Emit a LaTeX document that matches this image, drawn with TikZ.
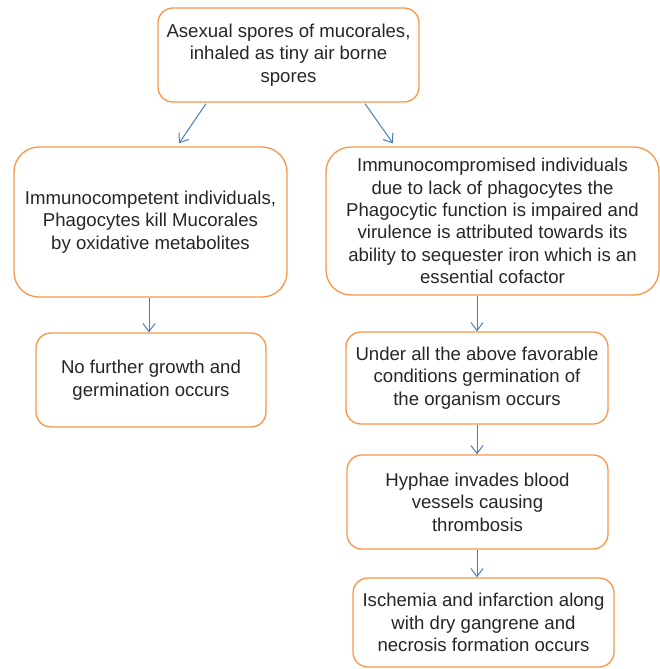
\documentclass[tikz,border=0pt]{standalone}
\usepackage{fontspec}
\setmainfont{Liberation Sans}
\usetikzlibrary{arrows.meta,calc}
\definecolor{boxorange}{RGB}{247,150,70}
\definecolor{arrowblue}{RGB}{74,126,187}
\definecolor{txt}{RGB}{38,38,38}
\begin{document}
\begin{tikzpicture}[x=1pt,y=-1pt,
  box/.style={draw=boxorange, line width=1.3pt, align=center, inner sep=0pt,
    text=txt, font=\fontsize{18.6}{22.4}\selectfont},
  smallbox/.style={box, rounded corners=15pt},
  bigbox/.style={box, rounded corners=25pt},
  arr/.style={draw=arrowblue, line width=1pt, -{Straight Barb[length=8pt,width=12pt]}}]
\useasboundingbox (0,0) rectangle (660,669);
\node[smallbox, minimum width=261pt, minimum height=94pt] (b1) at (288.5,55)
  {Asexual spores of mucorales,\\inhaled as tiny air borne\\spores};
\node[bigbox, minimum width=273pt, minimum height=150pt] (b2) at (150.5,222)
  {Immunocompetent individuals,\\Phagocytes kill Mucorales\\by oxidative metabolites};
\node[bigbox, minimum width=333pt, minimum height=148pt] (b3) at (492.5,221)
  {Immunocompromised individuals\\due to lack of phagocytes the\\Phagocytic function is impaired and\\virulence is attributed towards its\\ability to sequester iron which is an\\essential cofactor};
\node[smallbox, minimum width=230pt, minimum height=94pt] (b4) at (151,380)
  {No further growth and\\germination occurs};
\node[smallbox, minimum width=262pt, minimum height=92pt] (b5) at (477,378)
  {Under all the above favorable\\conditions germination of\\the organism occurs};
\node[smallbox, minimum width=261pt, minimum height=94pt] (b6) at (477.5,502)
  {Hyphae invades blood\\vessels causing\\thrombosis};
\node[smallbox, minimum width=261pt, minimum height=89pt] (b7) at (483.5,622.5)
  {Ischemia and infarction along\\with dry gangrene and\\necrosis formation occurs};
\draw[arr] ([xshift=-82.5pt,yshift=-1pt]b1.south) -- ([xshift=28.5pt,yshift=3pt]b2.north);
\draw[arr] ([xshift=76.5pt,yshift=-1pt]b1.south) -- ([xshift=-99.5pt,yshift=3pt]b3.north);
\draw[arr] ([xshift=-1.5pt]b2.south) -- ([xshift=-2pt]b4.north);
\draw[arr] (b5.north |- b3.south) -- (b5.north);
\draw[arr] (b5.south) -- (b5.south |- b6.north);
\draw[arr] (b6.south -| b5.south) -- (b5.south |- b7.north);
\end{tikzpicture}
\end{document}
